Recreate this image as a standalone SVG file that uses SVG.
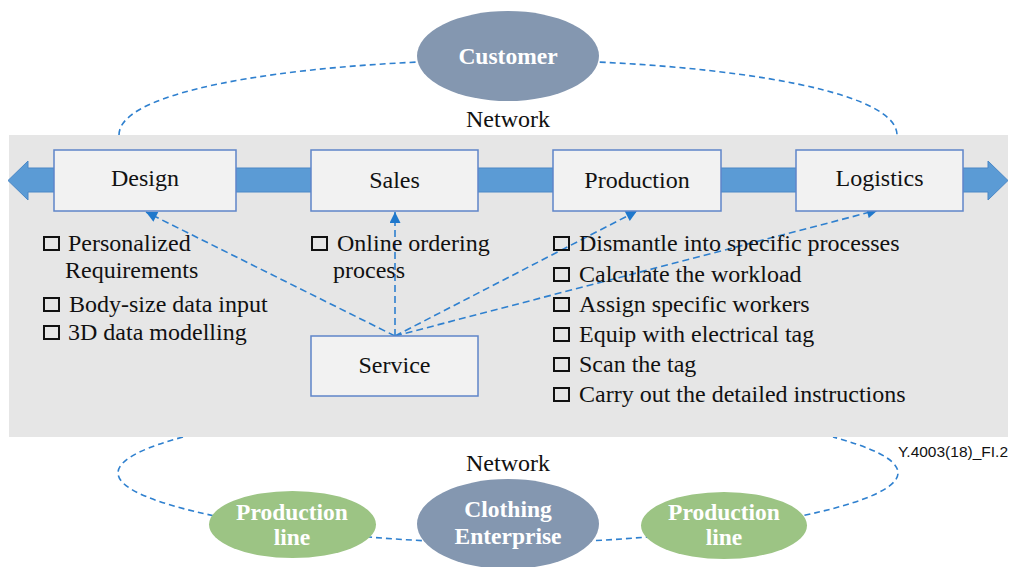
<svg xmlns="http://www.w3.org/2000/svg" width="1011" height="567" viewBox="0 0 1011 567">
  <style>
    text { font-family: "Liberation Serif", "Times New Roman", Times, "DejaVu Serif", serif; }
    .serif { font-size: 24px; fill: #111; font-weight: normal; }
    .mid { text-anchor: middle; }
    .bold { font-weight: bold; fill: #ffffff; font-size: 23.5px; }
    .box { fill: #f2f2f2; stroke: #5f85c9; stroke-width: 1.5; }
    .chk { fill: none; stroke: #111; stroke-width: 2; }
    .net { fill: none; stroke: #2f80cf; stroke-width: 1.6; stroke-dasharray: 6 4; }
    .link { fill: none; stroke: #2f80cf; stroke-width: 1.6; stroke-dasharray: 7 4; }
    .hub { fill: #8497b0; }
    .line { fill: #9cc484; }
  </style>
  <defs>
    <marker id="tip" viewBox="0 0 10 10" refX="10" refY="5" markerUnits="userSpaceOnUse" markerWidth="12" markerHeight="11" orient="auto">
      <path d="M0,0 L10,5 L0,10 Z" fill="#1f78cc"/>
    </marker>
  </defs>

  <rect width="1011" height="567" fill="#ffffff"/>

  <!-- network rings -->
  <g id="network-rings">
    <path class="net" d="M119,135 C119,85 330,60 508,60 C686,60 897,85 897,135"/>
    <path class="net" d="M183,437 C150,446 118,458 118,473 C118,510 330,543 508,543 C686,543 898,510 898,473 C898,458 866,446 833,437"/>
  </g>

  <!-- platform panel -->
  <rect x="9" y="135" width="999" height="302" fill="#e6e6e6"/>

  <!-- value chain arrow -->
  <path d="M8,180.5 L28,161 L28,168 L988,168 L988,161 L1008,180.5 L988,200 L988,192 L28,192 L28,200 Z" fill="#5b9bd5" stroke="#4a87c6" stroke-width="1"/>

  <text class="serif mid" x="508" y="127">Network</text>
  <text class="serif mid" x="508" y="471">Network</text>
  <text x="1008" y="457" text-anchor="end" style="font-family: 'Liberation Sans', Arial, sans-serif" font-size="15.5" fill="#111">Y.4003(18)_FI.2</text>

  <!-- connectors from Service -->
  <g id="connectors">
    <line class="link" x1="395" y1="336" x2="146" y2="212" marker-end="url(#tip)"/>
    <line class="link" x1="395" y1="336" x2="395" y2="212" marker-end="url(#tip)"/>
    <line class="link" x1="395" y1="336" x2="637" y2="211" marker-end="url(#tip)"/>
    <line class="link" x1="395" y1="336" x2="878" y2="210" marker-end="url(#tip)"/>
  </g>

  <g id="customer">
    <ellipse class="hub" cx="508" cy="56" rx="91" ry="45"/>
    <text class="serif bold mid" x="508" y="64">Customer</text>
  </g>

  <g id="design">
    <rect class="box" x="54" y="150" width="182" height="61"/>
    <text class="serif mid" x="145" y="186">Design</text>
  </g>
  <g id="sales">
    <rect class="box" x="311" y="150" width="167" height="61"/>
    <text class="serif mid" x="394.5" y="188">Sales</text>
  </g>
  <g id="production">
    <rect class="box" x="553" y="150" width="168" height="61"/>
    <text class="serif mid" x="637" y="188">Production</text>
  </g>
  <g id="logistics">
    <rect class="box" x="796" y="150" width="167" height="61"/>
    <text class="serif mid" x="879.5" y="186">Logistics</text>
  </g>
  <g id="service">
    <rect class="box" x="311" y="336" width="167" height="60"/>
    <text class="serif mid" x="394.5" y="373">Service</text>
  </g>

  <!-- design tasks -->
  <g id="design-tasks">
    <rect class="chk" x="44" y="237" width="15" height="13"/>
    <text class="serif" x="68" y="251">Personalized</text>
    <text class="serif" x="65" y="278">Requirements</text>
    <rect class="chk" x="44" y="298" width="15" height="13"/>
    <text class="serif" x="69" y="312">Body-size data input</text>
    <rect class="chk" x="44" y="326" width="15" height="13"/>
    <text class="serif" x="68" y="340">3D data modelling</text>
  </g>

  <!-- sales tasks -->
  <g id="sales-tasks">
    <rect class="chk" x="312" y="237" width="15" height="13"/>
    <text class="serif" x="337" y="251">Online ordering</text>
    <text class="serif" x="333" y="278">process</text>
  </g>

  <!-- production tasks -->
  <g id="production-tasks">
    <rect class="chk" x="554" y="237" width="15" height="13"/>
    <text class="serif" x="579" y="251">Dismantle into specific processes</text>
    <rect class="chk" x="554" y="268" width="15" height="13"/>
    <text class="serif" x="579" y="282">Calculate the workload</text>
    <rect class="chk" x="554" y="298" width="15" height="13"/>
    <text class="serif" x="579" y="312">Assign specific workers</text>
    <rect class="chk" x="554" y="328" width="15" height="13"/>
    <text class="serif" x="579" y="342">Equip with electrical tag</text>
    <rect class="chk" x="554" y="358" width="15" height="13"/>
    <text class="serif" x="579" y="372">Scan the tag</text>
    <rect class="chk" x="554" y="388" width="15" height="13"/>
    <text class="serif" x="579" y="402">Carry out the detailed instructions</text>
  </g>

  <g id="production-line-left">
    <ellipse class="line" cx="292.5" cy="524.5" rx="83.5" ry="33.5"/>
    <text class="serif bold mid" x="292" y="520">Production</text>
    <text class="serif bold mid" x="292" y="545">line</text>
  </g>
  <g id="clothing-enterprise">
    <ellipse class="hub" cx="508" cy="524" rx="91" ry="45"/>
    <text class="serif bold mid" x="508" y="517">Clothing</text>
    <text class="serif bold mid" x="508" y="544">Enterprise</text>
  </g>
  <g id="production-line-right">
    <ellipse class="line" cx="724" cy="525.5" rx="83" ry="33.5"/>
    <text class="serif bold mid" x="724" y="520">Production</text>
    <text class="serif bold mid" x="724" y="545">line</text>
  </g>
</svg>
